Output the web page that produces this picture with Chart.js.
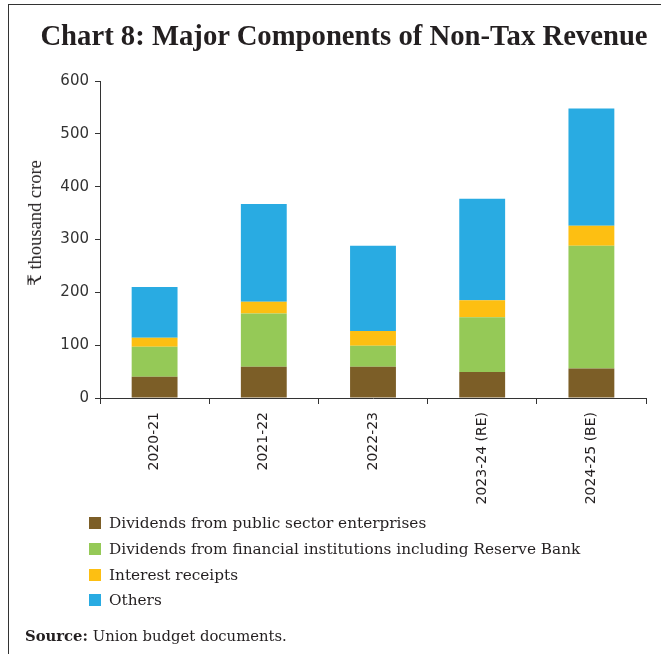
<!DOCTYPE html>
<html>
<head>
<meta charset="utf-8">
<script src="https://cdn.jsdelivr.net/npm/chart.js@4.4.1/dist/chart.umd.min.js"></script>
<style>
  html, body { margin: 0; padding: 0; background: #fff; }
  #wrap { position: relative; width: 661px; height: 654px; overflow: hidden; background: #fff; }
  #frame { position: absolute; left: 8px; top: 4px; width: 700px; height: 700px; border-left: 1px solid #333; border-top: 1px solid #333; }
  #chart { position: absolute; left: 0; top: 0; }
  .txt { position: absolute; color: #231f20; font-family: "Liberation Serif", "DejaVu Serif", serif; white-space: nowrap; }
  #title { left: 0; width: 688px; top: 19px; text-align: center; font-size: 28.7px; font-weight: bold; }
  #ytitle { left: 35px; top: 223px; font-size: 18.5px; transform: translate(-50%, -50%) rotate(-90deg); }
  #legend { left: 89px; top: 511px; font-size: 15.3px; font-family: "DejaVu Serif", serif; }
  #legend div { height: 25.8px; line-height: 25.8px; }
  #legend span.box { display: inline-block; width: 12px; height: 12px; margin-right: 8px; vertical-align: -1px; }
  #source { left: 25px; top: 627px; font-size: 14.8px; font-family: "DejaVu Serif", serif; }
</style>
</head>
<body>
<div id="wrap">
  <div id="frame"></div>
  <canvas id="chart" width="661" height="654"></canvas>
  <div class="txt" id="title">Chart 8: Major Components of Non-Tax Revenue</div>
  <div class="txt" id="ytitle">₹ thousand crore</div>
  <div class="txt" id="legend"></div>
  <div class="txt" id="source"><b>Source:</b> Union budget documents.</div>
</div>
<script>
const years = ['2020-21', '2021-22', '2022-23', '2023-24 (RE)', '2024-25 (BE)'];
const psuDividends = [40, 59, 59, 49, 56];
const finDividends = [57, 101, 40, 104, 232];
const interestReceipts = [17, 22, 28, 32, 38];
const others = [96, 185, 161, 192, 222];
const yTicks = [0, 100, 200, 300, 400, 500, 600];

const seriesNames = [
    'Dividends from public sector enterprises',
    'Dividends from financial institutions including Reserve Bank',
    'Interest receipts',
    'Others'
];
const seriesColors = ['#7c5e27', '#95c957', '#fdbf12', '#29abe2'];
const seriesData = [psuDividends, finDividends, interestReceipts, others];

// legend below chart, one item per line
const legendEl = document.getElementById('legend');
seriesNames.forEach((name, i) => {
    const row = document.createElement('div');
    row.innerHTML = `<span class="box" style="background:${seriesColors[i]}"></span>${name}`;
    legendEl.appendChild(row);
});

const ctx = document.getElementById('chart').getContext('2d');
new Chart(ctx, {
    type: 'bar',
    data: {
        labels: years,
        datasets: seriesData.map((d, i) => ({
            label: seriesNames[i],
            data: d,
            backgroundColor: seriesColors[i],
            borderWidth: 0,
            barPercentage: 0.42,
            categoryPercentage: 1,
        }))
    },
    options: {
        responsive: false,
        animation: false,
        layout: {
            padding: { left: 0, top: 81, right: 15, bottom: 136 }
        },
        plugins: {
            legend: { display: false },
            title: { display: false },
            tooltip: { enabled: false }
        },
        scales: {
            x: {
                stacked: true,
                afterFit: (s) => { s.height = 120; },
                border: { display: true, color: '#333', width: 1 },
                grid: { display: true, drawOnChartArea: false, drawTicks: true, tickLength: 6, color: '#333', offset: true },
                ticks: {
                    minRotation: 90,
                    maxRotation: 90,
                    padding: 8,
                    color: '#231f20',
                    font: { family: 'DejaVu Sans', size: 14 }
                }
            },
            y: {
                stacked: true,
                min: 0,
                max: 600,
                afterFit: (s) => { s.width = 100; },
                afterBuildTicks: (s) => { s.ticks = yTicks.map(v => ({ value: v })); },
                border: { display: true, color: '#333', width: 1 },
                grid: { display: true, drawOnChartArea: false, drawTicks: true, tickLength: 5, color: '#333' },
                ticks: {
                    padding: 6,
                    color: '#333',
                    font: { family: 'DejaVu Sans', size: 15 }
                }
            }
        }
    }
});
</script>
</body>
</html>
